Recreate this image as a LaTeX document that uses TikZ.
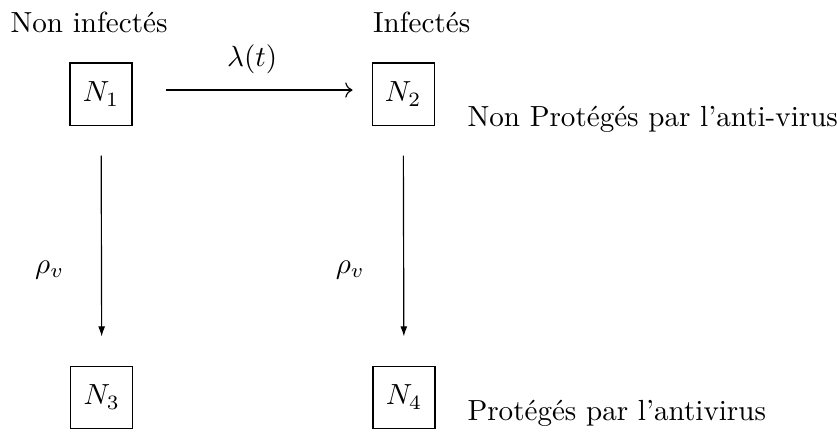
\documentclass[tikz,border=0pt]{standalone}
\usepackage{amsmath}
\usepackage{tikz}
\usetikzlibrary{arrows.meta, positioning}

\tikzset{
  compart/.style={draw, minimum size=0.75cm, inner sep=0pt},
  flowdown/.style={-{Latex[length=3.5pt, width=2.4pt]}, shorten <=0.36cm, shorten >=0.35cm},
  flowright/.style={-{To[length=2.5pt]}, shorten <=0.4cm, shorten >=0.23cm}
}

\begin{document}
\begin{tikzpicture}[x=1cm, y=1cm]
\useasboundingbox (0,0) rectangle (10.11,5.217);

%% compartments
\node[compart] (N1) at (1.22, 4.08) {$N_1$};
\node[compart] (N2) at (4.87, 4.08) {$N_2$};
\node[compart] (N3) at (1.23, 0.42) {$N_3$};
\node[compart] (N4) at (4.88, 0.42) {$N_4$};

%% flows
\draw[flowright] ([yshift=1.4pt]N1.east) -- ([yshift=1.4pt]N2.west)
  node[midway, above=2pt] {$\lambda(t)$};
\draw[flowdown] (N1) -- (N3);
\draw[flowdown] (N2) -- (N4);
\node (rho1) at (0.60, 1.96) {$\rho_v$};
\node (rho2) at (4.23, 1.96) {$\rho_v$};

%% labels
\node[anchor=west, inner sep=0pt] (lnoninf) at (0.12, 4.95) {Non infectés};
\node[anchor=west, inner sep=0pt] (linf) at (4.50, 4.95) {Infectés};
\node[anchor=west, inner sep=0pt] (lnonprot) at (5.64, 3.77) {Non Protégés par l'anti-virus};
\node[anchor=west, inner sep=0pt] (lprot) at (5.64, 0.23) {Protégés par l'antivirus};
\end{tikzpicture}
\end{document}
